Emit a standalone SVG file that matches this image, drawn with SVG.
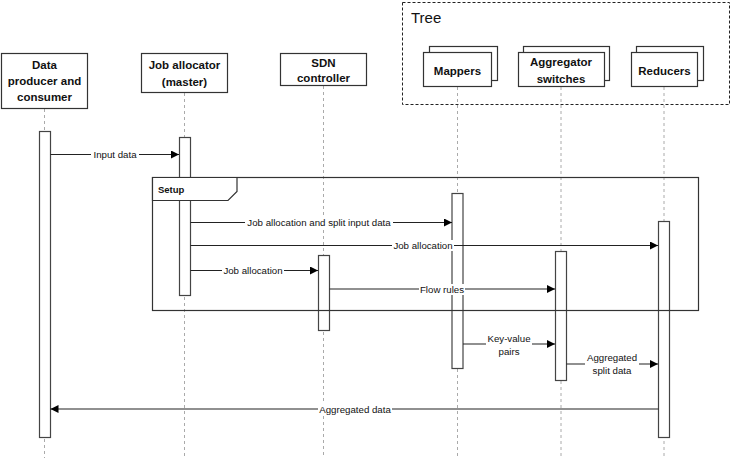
<svg xmlns="http://www.w3.org/2000/svg" width="732" height="458" viewBox="0 0 732 458">
<defs>
<style>
.node{fill:#fff;stroke:#333;stroke-width:1.2}
.life{stroke:#aaa;stroke-width:1;stroke-dasharray:3,3}
.act{fill:#fff;stroke:#444;stroke-width:1.2}
.msg{stroke:#222;stroke-width:1.1;fill:none}
.nt{font-family:"Liberation Sans",Arial,sans-serif;font-size:11.5px;font-weight:bold;fill:#111;text-anchor:middle}
.lt{font-family:"Liberation Sans",Arial,sans-serif;font-size:9.7px;fill:#111;text-anchor:middle}
.bg{fill:#fff}
</style>
<marker id="ah" viewBox="0 0 10 10" refX="10" refY="5" markerWidth="9" markerHeight="8" markerUnits="userSpaceOnUse" orient="auto">
<path d="M0,0 L10,5 L0,10 Z" fill="#000"/>
</marker>
</defs>

<rect x="402.5" y="2.5" width="327" height="102" fill="none" stroke="#222" stroke-width="1" stroke-dasharray="3,2"/>
<text x="411" y="23" font-family="Liberation Sans,Arial,sans-serif" font-size="15" fill="#111">Tree</text>

<g id="lifelines">
<line class="life" x1="44.5" y1="109" x2="44.5" y2="458"/>
<line class="life" x1="184.5" y1="93" x2="184.5" y2="458"/>
<line class="life" x1="323.5" y1="86" x2="323.5" y2="458"/>
<line class="life" x1="457.5" y1="87" x2="457.5" y2="458"/>
<line class="life" x1="561" y1="87" x2="561" y2="458"/>
<line class="life" x1="664" y1="87" x2="664" y2="458"/>
</g>

<g id="data-producer">
<rect class="node" x="1.5" y="53.5" width="86" height="55"/>
<text class="nt" x="44.5" y="69">Data</text>
<text class="nt" x="44.5" y="85">producer and</text>
<text class="nt" x="44.5" y="101">consumer</text>
</g>
<g id="job-allocator">
<rect class="node" x="141.5" y="53.5" width="86" height="39"/>
<text class="nt" x="184.5" y="69">Job allocator</text>
<text class="nt" x="184.5" y="86">(master)</text>
</g>
<g id="sdn-controller">
<rect class="node" x="280.5" y="53.5" width="86" height="32"/>
<text class="nt" x="323.5" y="67">SDN</text>
<text class="nt" x="323.5" y="82">controller</text>
</g>
<g id="mappers">
<rect class="node" x="429.5" y="46.5" width="68" height="34"/>
<rect class="node" x="423.5" y="52.5" width="68" height="34"/>
<text class="nt" x="457.5" y="75">Mappers</text>
</g>
<g id="aggregator-switches">
<rect class="node" x="523.5" y="46.5" width="86" height="34"/>
<rect class="node" x="518.5" y="52.5" width="86" height="34"/>
<text class="nt" x="561" y="66">Aggregator</text>
<text class="nt" x="561" y="83">switches</text>
</g>
<g id="reducers">
<rect class="node" x="636.5" y="46.5" width="67" height="34"/>
<rect class="node" x="631.5" y="52.5" width="66" height="34"/>
<text class="nt" x="664.5" y="75">Reducers</text>
</g>

<g id="activations">
<rect class="act" x="39.5" y="131.5" width="11" height="306"/>
<rect class="act" x="179.5" y="137.5" width="11" height="158"/>
<rect class="act" x="318.5" y="255.5" width="11" height="75"/>
<rect class="act" x="452" y="193.5" width="11" height="175"/>
<rect class="act" x="555.5" y="251.5" width="11" height="129"/>
<rect class="act" x="658.5" y="221.5" width="11" height="216"/>
</g>

<g id="setup-frame">
<rect x="152.5" y="177.5" width="546" height="133" fill="none" stroke="#333" stroke-width="1.2"/>
<path d="M152.5,177.5 H237 V191.5 L228,200.5 H152.5 Z" fill="#fff" stroke="#333" stroke-width="1.2"/>
<text x="158" y="193" font-family="Liberation Sans,Arial,sans-serif" font-size="9.5" font-weight="bold" fill="#111">Setup</text>
</g>

<g id="connectors">
<line class="msg" x1="50.5" y1="154.5" x2="179" y2="154.5" marker-end="url(#ah)"/>
<rect class="bg" x="91" y="149" width="48" height="11"/>
<text class="lt" x="115" y="158">Input data</text>

<line class="msg" x1="190.5" y1="222.5" x2="452" y2="222.5" marker-end="url(#ah)"/>
<rect class="bg" x="245" y="217" width="148" height="11"/>
<text class="lt" x="319" y="226">Job allocation and split input data</text>

<line class="msg" x1="190.5" y1="245.5" x2="658" y2="245.5" marker-end="url(#ah)"/>
<rect class="bg" x="392" y="240" width="62" height="11"/>
<text class="lt" x="423" y="249">Job allocation</text>

<line class="msg" x1="190.5" y1="270.5" x2="318" y2="270.5" marker-end="url(#ah)"/>
<rect class="bg" x="222" y="265" width="62" height="11"/>
<text class="lt" x="253" y="274">Job allocation</text>

<line class="msg" x1="329.5" y1="289" x2="555" y2="289" marker-end="url(#ah)"/>
<rect class="bg" x="419" y="284" width="46" height="11"/>
<text class="lt" x="442" y="292.5">Flow rules</text>

<line class="msg" x1="463" y1="344" x2="555" y2="344" marker-end="url(#ah)"/>
<rect class="bg" x="486" y="334" width="46" height="23"/>
<text class="lt" x="509" y="342">Key-value</text>
<text class="lt" x="509" y="354.5">pairs</text>

<line class="msg" x1="566.5" y1="364" x2="658" y2="364" marker-end="url(#ah)"/>
<rect class="bg" x="585" y="353" width="54" height="23"/>
<text class="lt" x="612" y="361">Aggregated</text>
<text class="lt" x="612" y="374">split data</text>

<line class="msg" x1="658.5" y1="409" x2="50.5" y2="409" marker-end="url(#ah)"/>
<rect class="bg" x="318" y="404" width="74" height="11"/>
<text class="lt" x="355" y="412.5">Aggregated data</text>
</g>
</svg>
